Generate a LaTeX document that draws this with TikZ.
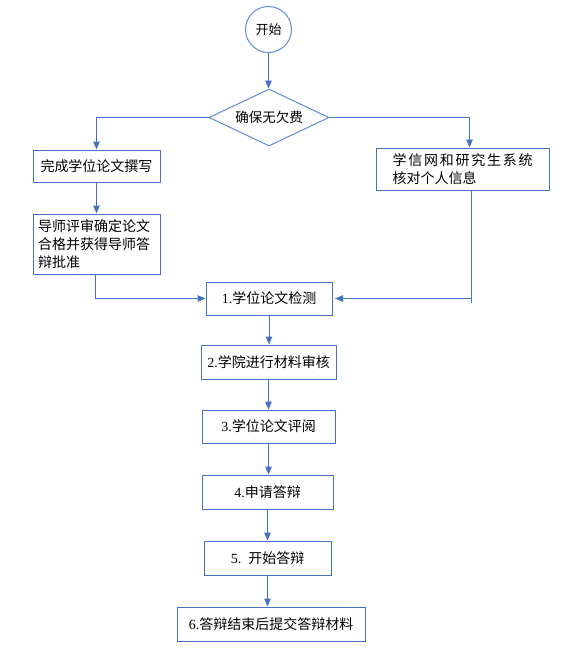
\documentclass[tikz,border=0pt]{standalone}
\usepackage{fontspec}
\setmainfont{Liberation Serif}
\newfontfamily\cjk{Noto Sans CJK SC}
\usetikzlibrary{shapes.geometric,arrows.meta,calc}
\definecolor{wordblue}{HTML}{4472C4}
\definecolor{lightblue}{HTML}{5B8BD8}
\newcommand\numtxt[1]{{\rmfamily #1}}
\begin{document}
\begin{tikzpicture}[x=1pt,y=-1pt,
  every node/.style={font=\cjk\fontsize{14pt}{18pt}\selectfont, text=black},
  flowbox/.style={draw=wordblue, line width=1pt, rectangle, inner sep=0pt},
  conn/.style={draw=wordblue, line width=1pt},
  arr/.style={conn, -{Triangle[length=8pt,width=6.5pt]}}]
\useasboundingbox (0,0) rectangle (579,662);

\node[draw=lightblue, line width=1pt, circle, minimum size=46pt, inner sep=0pt,
      font=\cjk\fontsize{13pt}{16pt}\selectfont] (start) at (268.5,29.5) {开始};
\node[draw=lightblue, line width=1pt, diamond, minimum width=120pt, minimum height=57pt,
      inner sep=0pt, shape aspect=2.1, font=\cjk\fontsize{13.5pt}{16pt}\selectfont] (dia) at (269,117.5) {确保无欠费};

\node[flowbox, minimum width=127pt, minimum height=32pt] (boxA) at (96.5,166) {完成学位论文撰写};
\node[flowbox, minimum width=127pt, minimum height=60pt, text width=117pt, align=left, inner xsep=5pt] (boxB) at (96.5,244) {导师评审确定论文\\合格并获得导师答\\辩批准};
\node[flowbox, minimum width=173pt, minimum height=42pt, text width=140pt, align=left, inner xsep=16.5pt] (boxR) at (462.5,169)
  {\makebox[140pt][s]{学\hfill 信\hfill 网\hfill 和\hfill 研\hfill 究\hfill 生\hfill 系\hfill 统}\\核对个人信息};

\node[flowbox, minimum width=126pt, minimum height=33pt] (box1) at (269,298.5) {\numtxt{1.}学位论文检测};
\node[flowbox, minimum width=135pt, minimum height=34pt] (box2) at (268.5,362) {\numtxt{2.}学院进行材料审核};
\node[flowbox, minimum width=133pt, minimum height=33pt] (box3) at (268.5,426.5) {\numtxt{3.}学位论文评阅};
\node[flowbox, minimum width=131pt, minimum height=34pt] (box4) at (267.5,492) {\numtxt{4.}申请答辩};
\node[flowbox, minimum width=127pt, minimum height=34pt] (box5) at (267.5,558) {\numtxt{5.\ \ }开始答辩};
\node[flowbox, minimum width=188pt, minimum height=34pt] (box6) at (271,624) {\numtxt{6.}答辩结束后提交答辩材料};

\draw[arr] (start.south) -- (start.south |- dia.north);
\draw[arr] (dia.west) -| (boxA.north);
\draw[arr] (dia.east) -| ([xshift=7pt]boxR.north);
\draw[arr] (boxA.south) -- (boxA.south |- boxB.north);
\draw[arr] ([xshift=-1pt]boxB.south) |- (box1.west);
\coordinate (rs) at ([xshift=8.5pt]boxR.south);
\coordinate (rj) at (rs |- box1.east);
\draw[conn] (rs) -- ([yshift=-4.5pt]rj);
\draw[arr, shorten >=2.5pt] (rj) -- (box1.east);
\foreach \a/\b in {box1/box2,box2/box3,box3/box4,box4/box5,box5/box6}
  \draw[arr] (\a.south) -- (\a.south |- \b.north);
\end{tikzpicture}
\end{document}
